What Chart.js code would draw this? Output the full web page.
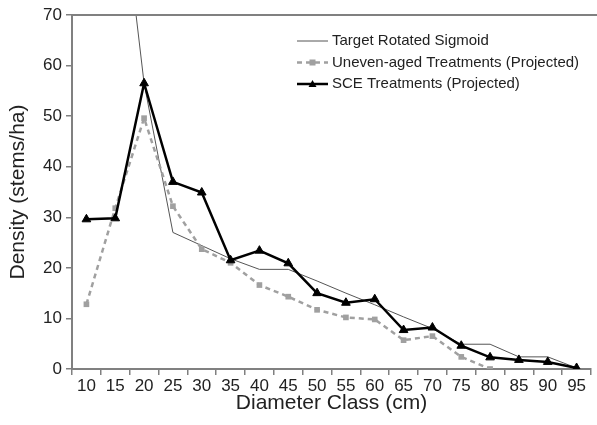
<!DOCTYPE html>
<html>
<head>
<meta charset="utf-8">
<script src="https://cdn.jsdelivr.net/npm/chart.js@4/dist/chart.umd.min.js"></script>
<style>
  html, body { margin: 0; padding: 0; background: #fff; }
  #wrap { width: 597px; height: 425px; }
</style>
</head>
<body>
<div id="wrap"><canvas id="densityChart" width="597" height="425"></canvas></div>
<script>
const diameterClasses = ["10", "15", "20", "25", "30", "35", "40", "45", "50", "55", "60", "65", "70", "75", "80", "85", "90", "95"];
// target curve goes off the top of the plot at 15 cm
const targetSigmoid = [null, 105, 56.5, 27.0, 24.4, 21.8, 19.7, 19.7, 17.4, 15.0, 12.7, 10.3, 8.0, 4.9, 4.9, 2.4, 2.4, 0.2];
const unevenAged = [12.8, 31.8, 49.6, 32.2, 23.7, 21.0, 16.6, 14.3, 11.7, 10.2, 9.8, 5.7, 6.5, 2.4, 0, null, null, null];
const sceTreatments = [29.6, 29.8, 56.5, 37.0, 34.9, 21.5, 23.4, 20.9, 15.0, 13.1, 13.8, 7.7, 8.2, 4.6, 2.3, 1.8, 1.4, 0.2];
const yTicks = [0, 10, 20, 30, 40, 50, 60, 70];

const axisGrey = "#808080";
const fontName = "'Liberation Sans', Arial, sans-serif";

// top border line + legend inside the plot
const extrasPlugin = {
  id: "extras",
  afterDraw(chart) {
    const ctx = chart.ctx;
    const area = chart.chartArea;
    ctx.save();
    ctx.strokeStyle = axisGrey;
    ctx.lineWidth = 2;
    ctx.beginPath();
    ctx.moveTo(area.left, area.top);
    ctx.lineTo(chart.width, area.top);
    ctx.stroke();

    const rows = [41, 62.5, 84];
    const x0 = 297, x1 = 328;
    ctx.font = "15px " + fontName;
    ctx.textBaseline = "middle";
    chart.data.datasets.forEach((ds, i) => {
      const y = rows[i];
      ctx.strokeStyle = ds.borderColor;
      ctx.lineWidth = ds.borderWidth;
      ctx.setLineDash(ds.borderDash || []);
      ctx.beginPath();
      ctx.moveTo(x0, y);
      ctx.lineTo(x1, y);
      ctx.stroke();
      ctx.setLineDash([]);
      if (ds.pointRadius > 0) {
        ctx.fillStyle = ds.pointBackgroundColor;
        const cx = (x0 + x1) / 2;
        if (ds.pointStyle === "triangle") {
          ctx.beginPath();
          ctx.moveTo(cx, y - 4);
          ctx.lineTo(cx + 4, y + 3);
          ctx.lineTo(cx - 4, y + 3);
          ctx.closePath();
          ctx.fill();
        } else {
          ctx.fillRect(cx - 3, y - 3, 6, 6);
        }
      }
      ctx.fillStyle = "#222";
      ctx.fillText(ds.label, 332, y);
    });
    ctx.restore();
  }
};

new Chart(document.getElementById("densityChart").getContext("2d"), {
  type: "line",
  data: {
    labels: diameterClasses,
    datasets: [
      {
        label: "Target Rotated Sigmoid",
        data: targetSigmoid,
        borderColor: "#555555",
        borderWidth: 1,
        pointRadius: 0,
        tension: 0,
        order: 2
      },
      {
        label: "Uneven-aged Treatments (Projected)",
        data: unevenAged,
        borderColor: "#a0a0a0",
        borderWidth: 2.5,
        borderDash: [5, 4],
        pointStyle: "rect",
        pointRadius: 4,
        pointBackgroundColor: "#a0a0a0",
        pointBorderWidth: 0,
        tension: 0,
        order: 1
      },
      {
        label: "SCE Treatments (Projected)",
        data: sceTreatments,
        borderColor: "#000000",
        borderWidth: 2.5,
        pointStyle: "triangle",
        pointRadius: 5,
        pointBackgroundColor: "#000000",
        pointBorderColor: "#000000",
        pointBorderWidth: 1,
        tension: 0,
        order: 0
      }
    ]
  },
  options: {
    responsive: false,
    animation: false,
    layout: { padding: { top: 15, right: 0, left: 6, bottom: 9 } },
    plugins: {
      legend: { display: false },
      tooltip: { enabled: false }
    },
    scales: {
      x: {
        offset: true,
        grid: { offset: true, drawOnChartArea: false, drawTicks: true, tickLength: 6, color: axisGrey, lineWidth: 1.5 },
        border: { color: axisGrey, width: 2 },
        ticks: { color: "#222", font: { family: fontName, size: 17 }, padding: 1, maxRotation: 0, autoSkip: false },
        title: { display: true, text: "Diameter Class (cm)", color: "#222", font: { family: fontName, size: 21 }, padding: { top: 0, bottom: 0 } },
        afterFit(scale) { scale.height = 47; }
      },
      y: {
        min: 0,
        max: 70,
        afterBuildTicks(scale) { scale.ticks = yTicks.map(v => ({ value: v })); },
        grid: { drawOnChartArea: false, drawTicks: true, tickLength: 6, color: axisGrey, lineWidth: 1.5 },
        border: { color: axisGrey, width: 2 },
        ticks: { color: "#222", font: { family: fontName, size: 17 }, padding: 4 },
        title: { display: true, text: "Density (stems/ha)", color: "#222", font: { family: fontName, size: 21 }, padding: { top: 0, bottom: 0 } },
        afterFit(scale) { scale.width = 66; }
      }
    }
  },
  plugins: [extrasPlugin]
});
</script>
</body>
</html>
